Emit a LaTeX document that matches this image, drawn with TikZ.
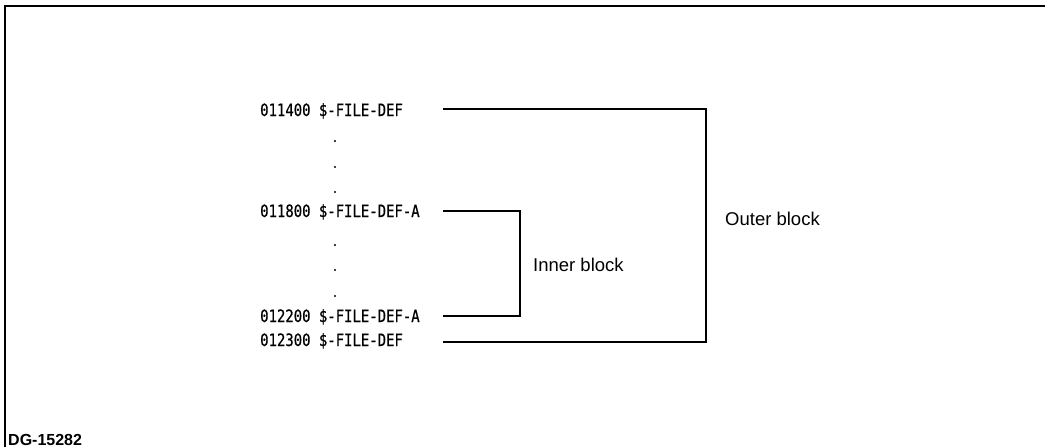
\documentclass[tikz,border=0pt]{standalone}
\usepackage{fontspec}
\setmainfont{Liberation Sans}
\newfontfamily\lpfont[FakeStretch=0.82,FakeBold=0.6]{DejaVu Sans Mono}
\usetikzlibrary{positioning}

\begin{document}
\begin{tikzpicture}[
  x=1pt, y=1pt,
  entry/.style={anchor=base west, inner sep=0pt,
    font=\lpfont\fontsize{17}{17}\selectfont},
  lbl/.style={anchor=west, inner sep=0pt,
    font=\fontsize{18.5}{20}\selectfont},
  brk/.style={line width=2pt},
  vdot/.style={circle, fill, inner sep=0pt, minimum size=2.2pt}
]
\useasboundingbox (0,0) rectangle (1045,-447);

% Frame and figure number
\draw[brk] (5,-447) -- (5,-6) -- (1045,-6);
\node[anchor=base west, inner sep=0pt,
  font=\bfseries\fontsize{16}{16}\selectfont] (fig) at (8,-445) {DG-15282};

% Listing lines
\node[entry] (l1) at (260,-116) {011400 \$-FILE-DEF};
\node[entry] (l2) at (260,-217) {011800 \$-FILE-DEF-A};
\node[entry] (l3) at (260,-322) {012200 \$-FILE-DEF-A};
\node[entry] (l4) at (260,-346) {012300 \$-FILE-DEF};

\foreach \y in {141,167,192,245,270,296}
  \node[vdot] (d\y) at (335,-\y) {};

% Bracket ends
\coordinate (o1) at (443,-109);
\coordinate (i1) at (443,-211);
\coordinate (i2) at (443,-316);
\coordinate (o2) at (443,-342);

\draw[brk] (i1) -- ++(77,0) |- (i2);
\draw[brk] (o1) -- ++(263,0) |- (o2);

\node[lbl] (inner) at (533,-265) {Inner block};
\node[lbl] (outer) at (725,-219) {Outer block};

\end{tikzpicture}
\end{document}
